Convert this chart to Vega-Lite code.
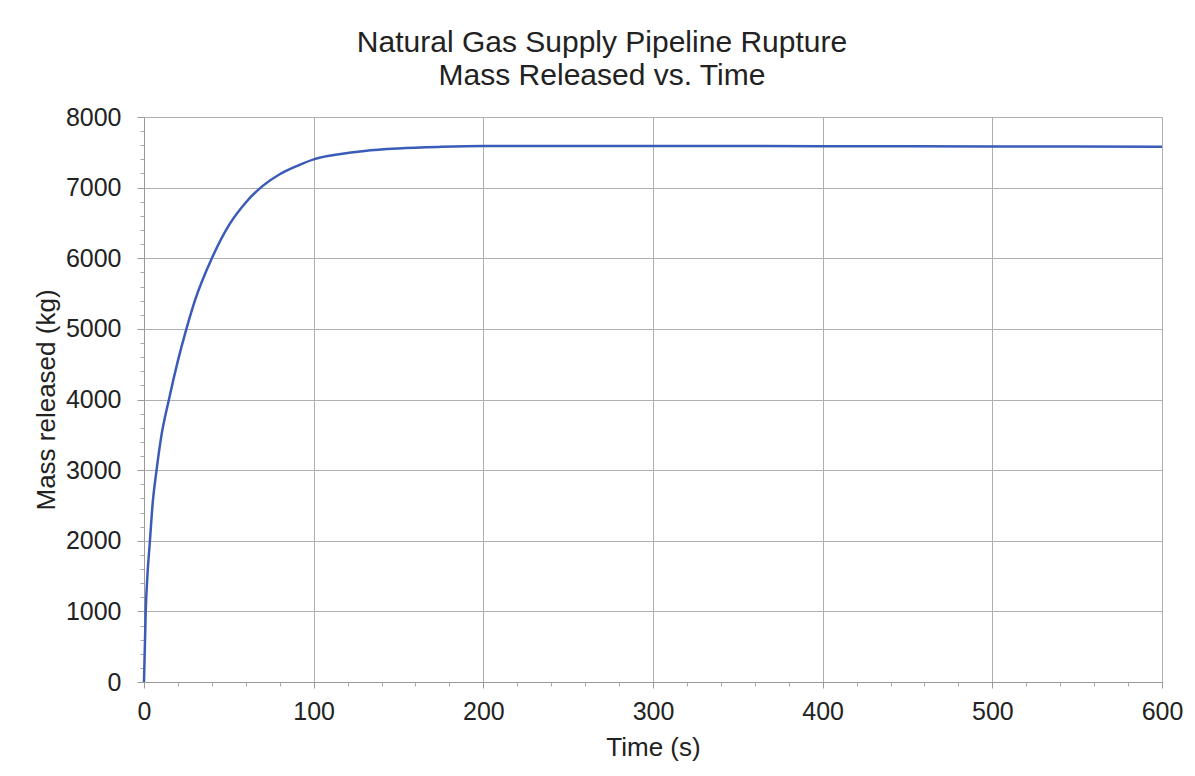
{
  "$schema": "https://vega.github.io/schema/vega-lite/v6.json",
  "width": 1018,
  "height": 565,
  "autosize": {"type": "none"},
  "padding": {"left": 144, "top": 117, "right": 33, "bottom": 94},
  "background": "white",
  "config": {
    "font": "Liberation Sans",
    "view": {"stroke": "#b0b0b0", "strokeWidth": 1}
  },
  "title": {
    "text": ["Natural Gas Supply Pipeline Rupture", "Mass Released vs. Time"],
    "fontSize": 30,
    "fontWeight": "normal",
    "color": "#222222",
    "lineHeight": 33,
    "anchor": "middle",
    "dx": -51,
    "offset": 14
  },
  "data": {
    "values": [
      {"t": 0, "m": 0},
      {"t": 1, "m": 1000},
      {"t": 2, "m": 1500},
      {"t": 3.5, "m": 2000},
      {"t": 5, "m": 2500},
      {"t": 7.4, "m": 3000},
      {"t": 10, "m": 3450},
      {"t": 14.7, "m": 4000},
      {"t": 20, "m": 4550},
      {"t": 25, "m": 5000},
      {"t": 30, "m": 5400},
      {"t": 40, "m": 6000},
      {"t": 50, "m": 6465},
      {"t": 60, "m": 6790},
      {"t": 70, "m": 7025},
      {"t": 80, "m": 7190},
      {"t": 90, "m": 7305},
      {"t": 100, "m": 7400},
      {"t": 115, "m": 7472},
      {"t": 130, "m": 7520},
      {"t": 150, "m": 7555},
      {"t": 175, "m": 7577},
      {"t": 200, "m": 7588},
      {"t": 300, "m": 7590},
      {"t": 400, "m": 7587},
      {"t": 500, "m": 7584},
      {"t": 600, "m": 7580}
    ]
  },
  "resolve": {"axis": {"x": "independent", "y": "independent"}},
  "layer": [
    {
      "mark": {"type": "line", "opacity": 0},
      "encoding": {
        "x": {
          "field": "t", "type": "quantitative",
          "scale": {"domain": [0, 600], "nice": false},
          "axis": {
            "orient": "bottom", "title": null, "labels": false, "grid": false, "domain": false,
            "values": [20, 40, 60, 80, 120, 140, 160, 180, 220, 240, 260, 280, 320, 340, 360, 380, 420, 440, 460, 480, 520, 540, 560, 580],
            "tickSize": 4, "tickColor": "#aaaaaa"
          }
        },
        "y": {
          "field": "m", "type": "quantitative",
          "scale": {"domain": [0, 8000], "nice": false},
          "axis": {
            "orient": "left", "title": null, "labels": false, "grid": false, "domain": false,
            "values": [200, 400, 600, 800, 1200, 1400, 1600, 1800, 2200, 2400, 2600, 2800, 3200, 3400, 3600, 3800, 4200, 4400, 4600, 4800, 5200, 5400, 5600, 5800, 6200, 6400, 6600, 6800, 7200, 7400, 7600, 7800],
            "tickSize": 4, "tickColor": "#aaaaaa"
          }
        }
      }
    },
    {
      "mark": {"type": "line", "color": "#3a5cb8", "strokeWidth": 2.5, "interpolate": "monotone"},
      "encoding": {
        "x": {
          "field": "t", "type": "quantitative",
          "scale": {"domain": [0, 600], "nice": false},
          "axis": {
            "orient": "bottom", "grid": true, "labelFlush": false,
            "title": "Time (s)", "titleFontSize": 26, "titleFontWeight": "normal", "titleColor": "#222222", "titlePadding": 10,
            "values": [0, 100, 200, 300, 400, 500, 600], "format": "d",
            "labelFontSize": 25, "labelColor": "#222222", "labelPadding": 11,
            "tickSize": 6, "tickColor": "#999999", "domainColor": "#999999",
            "gridColor": "#b0b0b0", "gridWidth": 1
          }
        },
        "y": {
          "field": "m", "type": "quantitative",
          "scale": {"domain": [0, 8000], "nice": false},
          "axis": {
            "orient": "left", "grid": true, "labelFlush": false,
            "title": "Mass released (kg)", "titleFontSize": 26, "titleFontWeight": "normal", "titleColor": "#222222", "titlePadding": 6,
            "values": [0, 1000, 2000, 3000, 4000, 5000, 6000, 7000, 8000], "format": "d",
            "labelFontSize": 25, "labelColor": "#222222", "labelPadding": 16,
            "tickSize": 7, "tickColor": "#999999", "domainColor": "#999999",
            "gridColor": "#b0b0b0", "gridWidth": 1
          }
        }
      }
    }
  ]
}
